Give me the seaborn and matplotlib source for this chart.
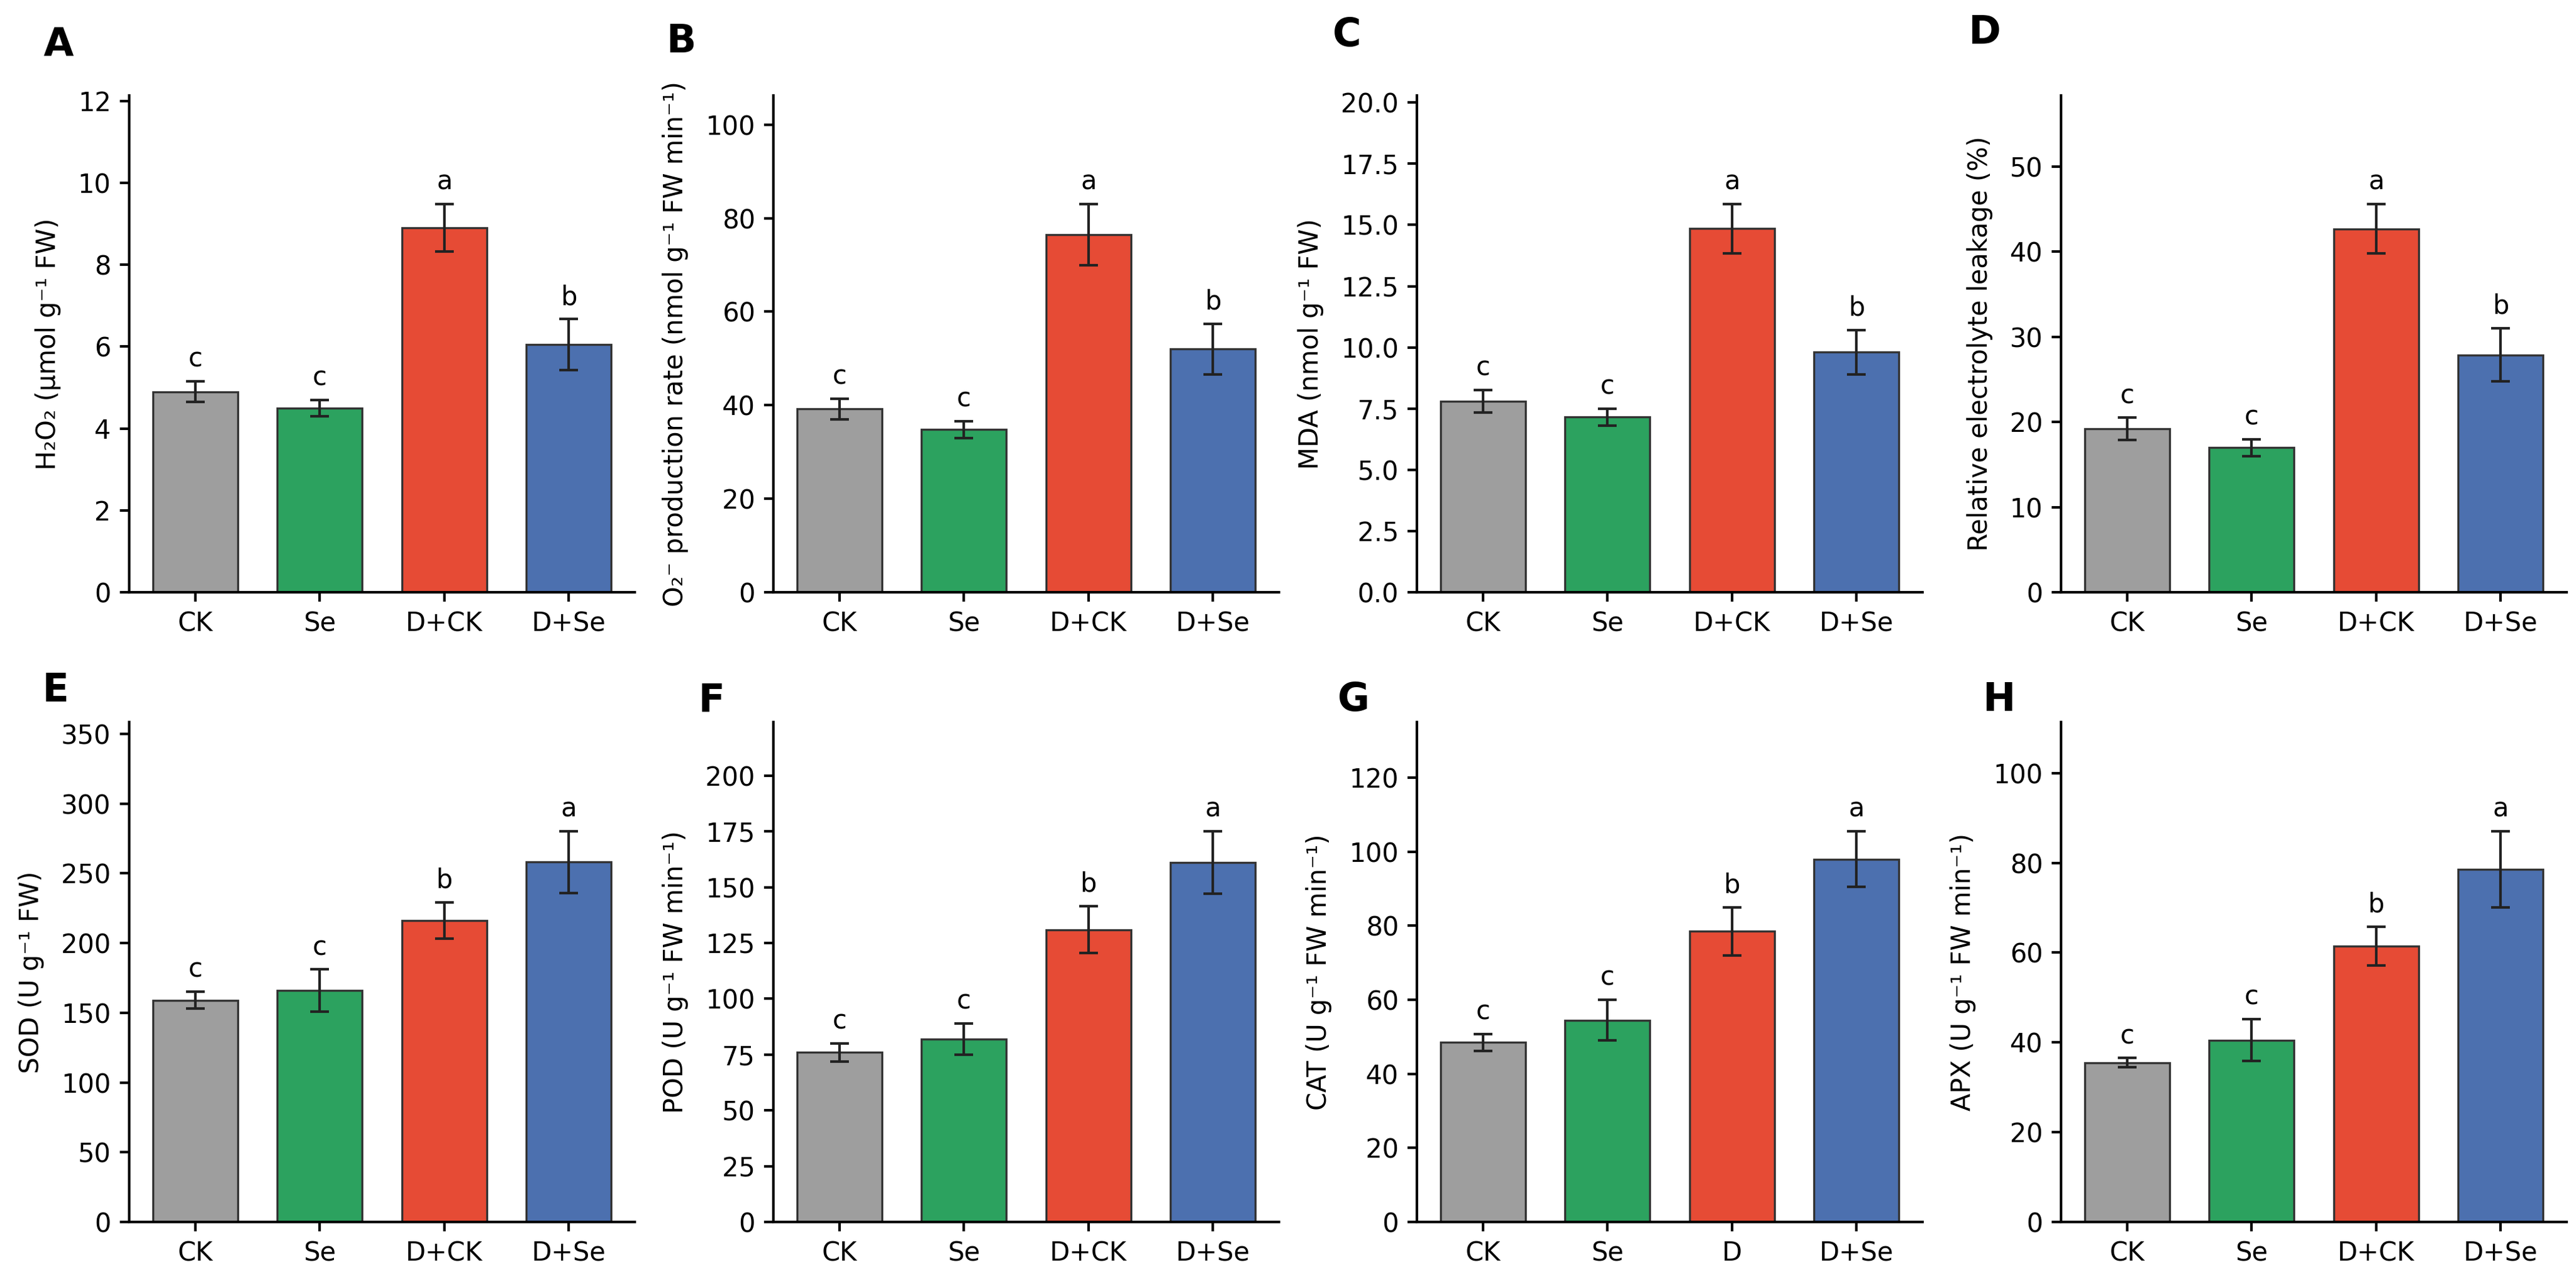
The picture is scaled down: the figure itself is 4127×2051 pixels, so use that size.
import numpy as np
import pandas as pd
import matplotlib
matplotlib.use("Agg")
import matplotlib.pyplot as plt
import seaborn as sns

# treatments and colours
groups = ["CK", "Se", "D+CK", "D+Se"]
bar_colors = ["#9E9E9E", "#2CA25F", "#E64B35", "#4C70AF"]

# ROS / damage markers
h2o2_mean = [4.9, 4.5, 8.9, 6.05]
h2o2_err = [0.25, 0.2, 0.58, 0.62]
o2_mean = [39.2, 34.8, 76.5, 52.0]
o2_err = [2.2, 1.8, 6.5, 5.4]
mda_mean = [7.8, 7.15, 14.85, 9.8]
mda_err = [0.45, 0.35, 1.0, 0.9]
rel_mean = [19.2, 17.0, 42.7, 27.9]
rel_err = [1.3, 1.0, 2.9, 3.1]

# antioxidant enzymes
sod_mean = [159, 166, 216, 258]
sod_err = [6, 15, 13, 22]
pod_mean = [76, 82, 131, 161]
pod_err = [4, 7, 10.5, 14]
cat_mean = [48.5, 54.5, 78.5, 98]
cat_err = [2.3, 5.5, 6.5, 7.5]
apx_mean = [35.5, 40.5, 61.5, 78.5]
apx_err = [1.0, 4.7, 4.3, 8.5]

letters_up = ["c", "c", "a", "b"]
letters_enz = ["c", "c", "b", "a"]
ticks_default = ["CK", "Se", "D+CK", "D+Se"]
ticks_cat = ["CK", "Se", "D", "D+Se"]

panels = [
    ("A", "H₂O₂ (μmol g⁻¹ FW)", h2o2_mean, h2o2_err, letters_up, ticks_default),
    ("B", "O₂⁻ production rate (nmol g⁻¹ FW min⁻¹)", o2_mean, o2_err, letters_up, ticks_default),
    ("C", "MDA (nmol g⁻¹ FW)", mda_mean, mda_err, letters_up, ticks_default),
    ("D", "Relative electrolyte leakage (%)", rel_mean, rel_err, letters_up, ticks_default),
    ("E", "SOD (U g⁻¹ FW)", sod_mean, sod_err, letters_enz, ticks_default),
    ("F", "POD (U g⁻¹ FW min⁻¹)", pod_mean, pod_err, letters_enz, ticks_default),
    ("G", "CAT (U g⁻¹ FW min⁻¹)", cat_mean, cat_err, letters_enz, ticks_cat),
    ("H", "APX (U g⁻¹ FW min⁻¹)", apx_mean, apx_err, letters_enz, ticks_default),
]

# layout (pixels of the 4127x2051 canvas)
W, H = 4127, 2051
col_left = [207, 1239, 2270, 3302]
ax_w = 810
row_box = [(153, 949), (1157, 1958)]
label_xy = [(70, 42), (1067, 37), (2135, 27), (3153, 23),
            (67, 1077), (1118, 1093), (2143, 1092), (3176, 1092)]

sns.set_style("ticks")
plt.rcParams["font.family"] = ["DejaVu Sans"]
plt.rcParams.update({
    "axes.linewidth": 1.0,
    "axes.edgecolor": "black",
    "axes.labelcolor": "black",
    "text.color": "black",
    "xtick.color": "black",
    "ytick.color": "black",
})

fig = plt.figure(figsize=(W / 300, H / 300), dpi=300)

for i, (tag, ylab, mean, err, sig, ticklabels) in enumerate(panels):
    r, c = divmod(i, 4)
    top, bot = row_box[r]
    ax = fig.add_axes([col_left[c] / W, 1 - bot / H, ax_w / W, (bot - top) / H])

    df = pd.DataFrame({"group": groups, "value": mean})
    sns.barplot(data=df, x="group", y="value", hue="group", palette=bar_colors,
                legend=False, width=0.68, saturation=1, errorbar=None,
                edgecolor="#333333", linewidth=0.8, ax=ax)
    ax.errorbar(np.arange(4), mean, yerr=err, fmt="none", ecolor="#222222",
                elinewidth=1.0, capsize=3.5, capthick=1.0, zorder=3)

    ytop = max(m + e for m, e in zip(mean, err)) * 1.28
    ax.set_ylim(0, ytop)
    ax.set_xlim(-0.53, 3.53)
    for j, (m, e, s) in enumerate(zip(mean, err, sig)):
        ax.text(j, m + e + 0.018 * ytop, s, ha="center", va="bottom", fontsize=10)

    ax.set_xticks(range(4))
    ax.set_xticklabels(ticklabels)
    ax.set_xlabel("")
    ax.set_ylabel(ylab, fontsize=10, labelpad=6.5)
    ax.tick_params(axis="both", labelsize=10, length=3.5, width=1.0, color="black")
    sns.despine(ax=ax)

    lx, ly = label_xy[i]
    fig.text(lx / W, 1 - ly / H, tag, fontsize=15, fontweight="bold",
             ha="left", va="top")

fig.savefig("out.png", dpi=300)
